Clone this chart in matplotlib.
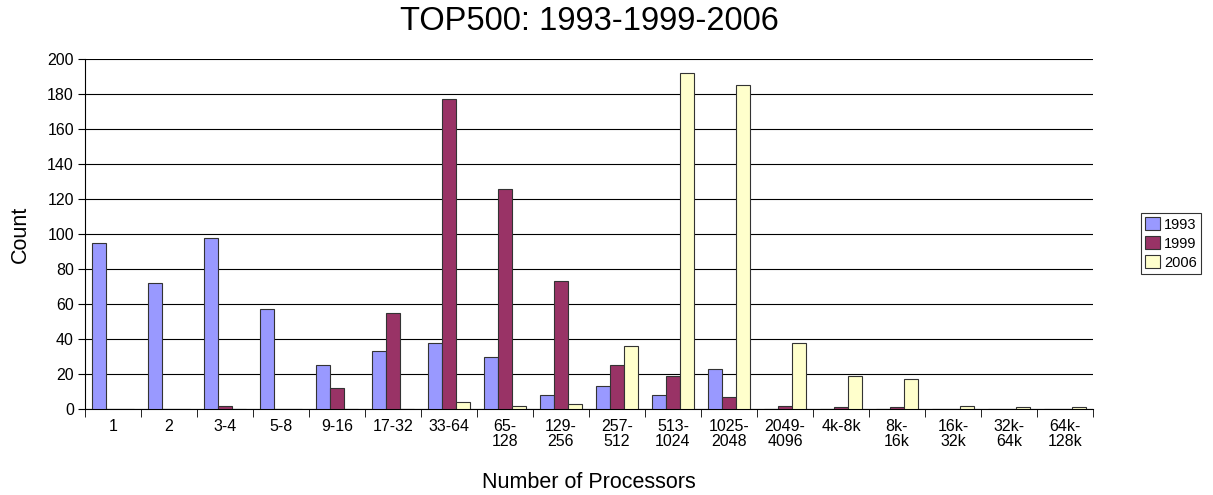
import numpy as np
import matplotlib.pyplot as plt

plt.rcParams['font.family'] = ['Liberation Sans', 'DejaVu Sans']

categories = ['1', '2', '3-4', '5-8', '9-16', '17-32', '33-64', '65-\n128', '129-\n256',
              '257-\n512', '513-\n1024', '1025-\n2048', '2049-\n4096', '4k-8k', '8k-\n16k',
              '16k-\n32k', '32k-\n64k', '64k-\n128k']
y1993 = [95, 72, 98, 57, 25, 33, 38, 30, 8, 13, 8, 23, 0, 0, 0, 0, 0, 0]
y1999 = [0, 0, 2, 0, 12, 55, 177, 126, 73, 25, 19, 7, 2, 1, 1, 0, 0, 0]
y2006 = [0, 0, 0, 0, 0, 0, 4, 2, 3, 36, 192, 185, 38, 19, 17, 2, 1, 1]

series = [('1993', y1993, '#9999FF'), ('1999', y1999, '#993366'), ('2006', y2006, '#FFFFCC')]

W, H = 1213, 495
fig = plt.figure(figsize=(W / 100, H / 100), dpi=100)
ax = fig.add_axes([85 / W, (H - 409) / H, (1093 - 85) / W, 350 / H])

x = np.arange(len(categories))
w = 0.25
for i, (name, vals, col) in enumerate(series):
    ax.bar(x + (i - 1) * w, vals, w, color=col, edgecolor='#333333', linewidth=0.8,
           label=name, zorder=3)

ax.set_xlim(-0.5, len(categories) - 0.5)
ax.set_ylim(0, 200)
ax.set_yticks(range(0, 201, 20))
ax.yaxis.grid(True, color='black', linewidth=0.8, zorder=0)
ax.set_axisbelow(True)

ax.set_xticks(x)
ax.set_xticklabels(categories, fontsize=11.5, linespacing=1.05)
ax.set_xticks(np.arange(-0.5, len(categories), 1), minor=True)
ax.tick_params(axis='x', which='major', length=0, pad=7)
ax.tick_params(axis='x', which='minor', length=6, direction='out')
ax.tick_params(axis='y', labelsize=11.5, length=5, direction='out', pad=3)

for s in ['top', 'right']:
    ax.spines[s].set_visible(False)

fig.text(589 / W, 1 - 21 / H, 'TOP500: 1993-1999-2006', fontsize=23.5, ha='center', va='center')
fig.text(589 / W, 1 - 482 / H, 'Number of Processors', fontsize=15.5, ha='center', va='center')
fig.text(20 / W, 1 - 234 / H, 'Count', fontsize=15.5, ha='center', va='center', rotation=90)

leg = ax.legend(loc='upper left', bbox_to_anchor=(1141 / W, 1 - 213 / H),
                bbox_transform=fig.transFigure, borderaxespad=0, fontsize=10.5,
                frameon=True, fancybox=False, edgecolor='black', borderpad=0.3,
                handlelength=1.0, handleheight=1.0, handletextpad=0.3, labelspacing=0.3)
leg.get_frame().set_linewidth(0.8)

fig.savefig('out.png', dpi=100)
